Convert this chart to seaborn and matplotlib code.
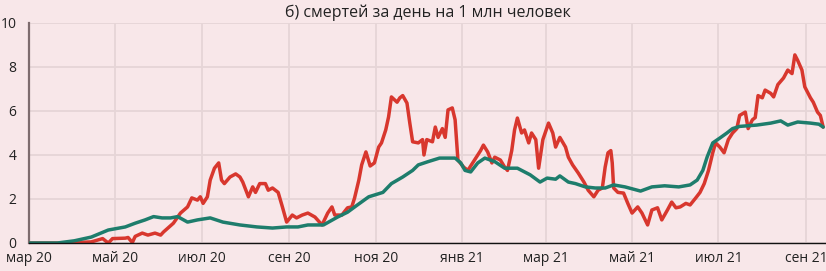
import matplotlib
matplotlib.use("Agg")
import matplotlib.pyplot as plt
import seaborn as sns
import pandas as pd

# ---- data (days since 2020-03-01, deaths per day per 1 mln) ----
red_days = [0, 24, 44, 52, 56, 59, 68, 70, 73, 75, 80, 84, 89, 93, 95, 102, 107, 112, 115, 119,
            121, 123, 126, 128, 131, 134, 136, 138, 142, 146, 149, 151, 155, 158, 160, 163, 167,
            169, 172, 176, 179, 182, 186, 189, 193, 197, 202, 207, 211, 214, 216, 221, 225, 228,
            230, 233, 235, 238, 241, 244, 247, 249, 252, 254, 256, 260, 262, 264, 267, 269, 271,
            275, 278, 279, 281, 285, 287, 289, 292, 294, 296, 299, 301, 303, 307, 310, 314, 319,
            321, 324, 327, 329, 333, 336, 338, 341, 343, 345, 348, 350, 353, 355, 358, 360, 363,
            367, 370, 372, 375, 379, 381, 384, 388, 392, 395, 399, 402, 405, 407, 409, 411, 412,
            413, 416, 420, 423, 426, 430, 433, 437, 440, 444, 447, 451, 454, 457, 460, 464, 467,
            471, 474, 477, 480, 483, 485, 488, 491, 494, 497, 500, 502, 506, 508, 511, 513, 515,
            518, 520, 524, 526, 529, 533, 536, 539, 541, 543, 546, 548, 552, 554, 557, 559, 561]
red_vals = [0, 0, 0.05, 0.2, 0.0, 0.2, 0.22, 0.25, 0.02, 0.3, 0.45, 0.36, 0.45, 0.36, 0.5, 0.9,
            1.36, 1.64, 2.05, 1.95, 2.1, 1.8, 2.1, 2.86, 3.4, 3.64, 2.86, 2.7, 3.0, 3.14, 3.0, 2.77,
            2.1, 2.55, 2.3, 2.7, 2.7, 2.4, 2.5, 2.3, 1.64, 0.95, 1.27, 1.14, 1.27, 1.36, 1.18, 0.82,
            1.36, 1.64, 1.27, 1.27, 1.6, 1.64, 2.05, 2.86, 3.55, 4.14, 3.5, 3.64, 4.36, 4.55, 5.14,
            5.73, 6.64, 6.4, 6.6, 6.7, 6.36, 5.45, 4.6, 4.55, 4.7, 4.0, 4.7, 4.6, 5.27, 4.8, 5.2,
            4.8, 6.05, 6.14, 5.6, 3.77, 3.45, 3.3, 3.7, 4.2, 4.45, 4.14, 3.64, 3.9, 3.77, 3.45, 3.3,
            4.2, 5.14, 5.68, 5.0, 5.14, 4.55, 5.0, 4.7, 3.4, 4.7, 5.45, 5.0, 4.36, 4.8, 4.36, 3.9,
            3.55, 3.18, 2.77, 2.4, 2.1, 2.4, 2.5, 3.45, 4.1, 4.2, 3.64, 2.5, 2.3, 2.27, 1.8, 1.36,
            1.64, 1.36, 0.82, 1.5, 1.6, 1.05, 1.5, 1.86, 1.6, 1.64, 1.8, 1.73, 2.05, 2.3, 2.7, 3.3,
            4.1, 4.55, 4.36, 4.1, 4.7, 5.0, 5.2, 5.8, 5.95, 5.2, 5.6, 5.7, 6.7, 6.6, 6.95, 6.8,
            6.64, 7.2, 7.5, 7.86, 7.7, 8.55, 8.3, 7.86, 7.1, 6.6, 6.4, 5.95, 5.8, 5.27]

teal_days = [0, 20, 32, 44, 56, 68, 75, 82, 88, 94, 100, 105, 112, 119, 128, 137, 149, 161, 172,
             182, 190, 197, 208, 218, 225, 232, 240, 244, 250, 256, 264, 271, 275, 282, 290, 301,
             305, 308, 312, 317, 322, 329, 336, 345, 354, 361, 366, 372, 375, 381, 386, 393, 400,
             407, 413, 421, 432, 440, 449, 459, 467, 472, 476, 479, 483, 488, 493, 497, 502, 514,
             524, 531, 536, 543, 552, 558, 561]
teal_vals = [0, 0, 0.1, 0.27, 0.59, 0.73, 0.9, 1.05, 1.2, 1.14, 1.14, 1.2, 0.95, 1.05, 1.14, 0.95,
             0.82, 0.73, 0.68, 0.73, 0.73, 0.82, 0.82, 1.18, 1.4, 1.73, 2.1, 2.18, 2.3, 2.7, 3.0,
             3.3, 3.55, 3.7, 3.86, 3.86, 3.64, 3.3, 3.23, 3.64, 3.86, 3.7, 3.4, 3.4, 3.1, 2.77,
             2.95, 2.9, 3.05, 2.77, 2.7, 2.55, 2.5, 2.5, 2.64, 2.55, 2.36, 2.55, 2.6, 2.55, 2.64,
             2.86, 3.3, 3.9, 4.55, 4.77, 5.0, 5.2, 5.3, 5.36, 5.45, 5.55, 5.36, 5.5, 5.45, 5.4,
             5.27]

tick_dates = ["2020-03-01", "2020-05-01", "2020-07-01", "2020-09-01", "2020-11-01",
              "2021-01-01", "2021-03-01", "2021-05-01", "2021-07-01", "2021-09-01"]
tick_labels = ["мар 20", "май 20", "июл 20", "сен 20", "ноя 20",
               "янв 21", "мар 21", "май 21", "июл 21", "сен 21"]
y_ticks = [0, 2, 4, 6, 8, 10]
title = "б) смертей за день на 1 млн человек"

start = pd.Timestamp("2020-03-01")
red_df = pd.DataFrame({"date": start + pd.to_timedelta(red_days, unit="D"), "v": red_vals})
teal_df = pd.DataFrame({"date": start + pd.to_timedelta(teal_days, unit="D"), "v": teal_vals})

bg = "#F8E7E9"
grid_c = "#E6D5D7"
sns.set_style("white", {"axes.facecolor": bg, "figure.facecolor": bg})
plt.rcParams["font.family"] = ["Open Sans", "DejaVu Sans"]

fig = plt.figure(figsize=(8.26, 2.71), dpi=100)
ax = fig.add_axes([29 / 826, 1 - 243 / 271, (826 - 29) / 826, 220 / 271])
ax.set_facecolor(bg)

sns.lineplot(data=red_df, x="date", y="v", color="#D8372E", linewidth=2.5, ax=ax, zorder=3)
sns.lineplot(data=teal_df, x="date", y="v", color="#1E7D6C", linewidth=2.5, ax=ax, zorder=4)

ax.set_xlim(start, start + pd.Timedelta(days=563))
ax.set_ylim(0, 10)
ax.set_xticks(pd.to_datetime(tick_dates))
ax.set_xticklabels(tick_labels)
ax.set_yticks(y_ticks)
ax.set_yticklabels([str(t) for t in y_ticks])
ax.set_xlabel("")
ax.set_ylabel("")

ax.grid(True, color=grid_c, linewidth=1.3, zorder=0)
ax.set_axisbelow(True)
for s in ["top", "right"]:
    ax.spines[s].set_visible(False)
ax.spines["left"].set_color("#7E6C6E")
ax.spines["left"].set_linewidth(1.6)
ax.spines["bottom"].set_color("#111111")
ax.spines["bottom"].set_linewidth(1.0)
ax.spines["bottom"].set_zorder(5)

ax.tick_params(axis="both", length=0, labelsize=10, colors="#222222")
ax.tick_params(axis="y", pad=9)
ax.tick_params(axis="x", pad=6)
ax.set_title(title, fontsize=11.5, color="#222222", pad=4)

fig.savefig("out.png", dpi=100, facecolor=bg)
